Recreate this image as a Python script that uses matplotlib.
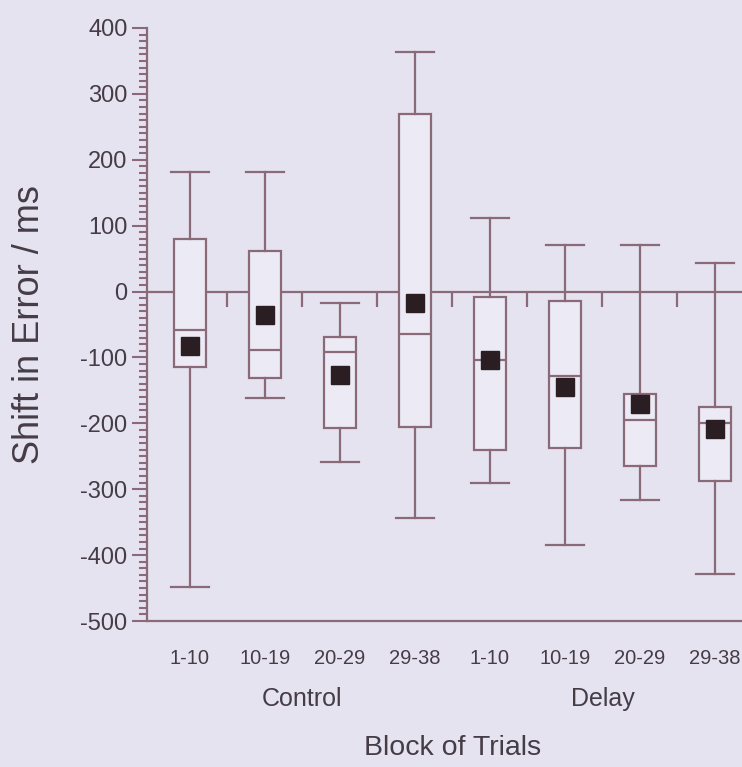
import numpy as np
import matplotlib
matplotlib.use("Agg")
import matplotlib.pyplot as plt
from matplotlib.ticker import MultipleLocator

# values (ms)
blocks = ["1-10", "10-19", "20-29", "29-38", "1-10", "10-19", "20-29", "29-38"]
whisk_hi = [182, 182, -18, 363, 111, 70, 70, 44]
q3 = [80, 62, -69, 270, -9, -14, -155, -175]
median = [-59, -89, -91, -64, -104, -128, -195, -200]
q1 = [-114, -131, -207, -205, -240, -237, -264, -287]
whisk_lo = [-449, -161, -258, -344, -291, -385, -316, -429]
mean = [-82, -36, -127, -17, -104, -145, -170, -209]
groups = ["Control", "Delay"]
group_pos = [2.5, 6.5]

bg = "#e5e3f0"
line_col = "#8a6a78"
text_col = "#463c46"

plt.rcParams["font.family"] = ["Liberation Sans", "DejaVu Sans"]
plt.rcParams["axes.unicode_minus"] = False

fig = plt.figure(figsize=(7.42, 7.67), dpi=100, facecolor=bg)
ax = fig.add_axes([147 / 742, 146 / 767, 595 / 742, 593 / 767])
ax.set_facecolor(bg)

stats = []
for i in range(len(blocks)):
    stats.append({
        "med": median[i], "q1": q1[i], "q3": q3[i],
        "whislo": whisk_lo[i], "whishi": whisk_hi[i],
        "mean": mean[i], "fliers": [],
    })

pos = np.arange(1, len(blocks) + 1)
lprops = dict(color=line_col, linewidth=1.6)
ax.bxp(stats, positions=pos, widths=0.43, showmeans=True, patch_artist=True,
       boxprops=dict(facecolor="#eceaf5", edgecolor=line_col, linewidth=1.6),
       whiskerprops=lprops, capprops=lprops, medianprops=lprops,
       meanprops=dict(marker="s", markersize=13, markerfacecolor="#2a1e22",
                      markeredgecolor="#2a1e22"),
       capwidths=0.5, zorder=3)

# zero line with hanging ticks between blocks
ax.axhline(0, color=line_col, linewidth=1.6, zorder=2)
ax.vlines(pos[:-1] + 0.5, -23, 0, color=line_col, linewidth=1.6, zorder=2)

ax.set_xlim(0.427, 8.36)
ax.set_ylim(-500, 400)
ax.set_xticks(pos)
ax.set_xticklabels(blocks, fontsize=14.5, color=text_col)
ax.tick_params(axis="x", length=0, pad=20)

ax.yaxis.set_major_locator(MultipleLocator(100))
ax.yaxis.set_minor_locator(MultipleLocator(10))
ax.tick_params(axis="y", which="major", length=11, width=1.5, color=line_col,
               labelsize=17, labelcolor=text_col, pad=3)
ax.tick_params(axis="y", which="minor", length=6, width=1.5, color=line_col)

for s in ["top", "right"]:
    ax.spines[s].set_visible(False)
for s in ["left", "bottom"]:
    ax.spines[s].set_color(line_col)
    ax.spines[s].set_linewidth(1.6)

ax.set_ylabel("Shift in Error / ms", fontsize=26, color=text_col)
ax.yaxis.set_label_coords(-0.168, 0.5)

for name, gx in zip(groups, group_pos):
    ax.text(gx, -619, name, ha="center", va="center", fontsize=18,
            color=text_col)
ax.text(4.5, -693, "Block of Trials", ha="center", va="center", fontsize=20.5,
        color=text_col)

fig.savefig("out.png", dpi=100, facecolor=bg)
